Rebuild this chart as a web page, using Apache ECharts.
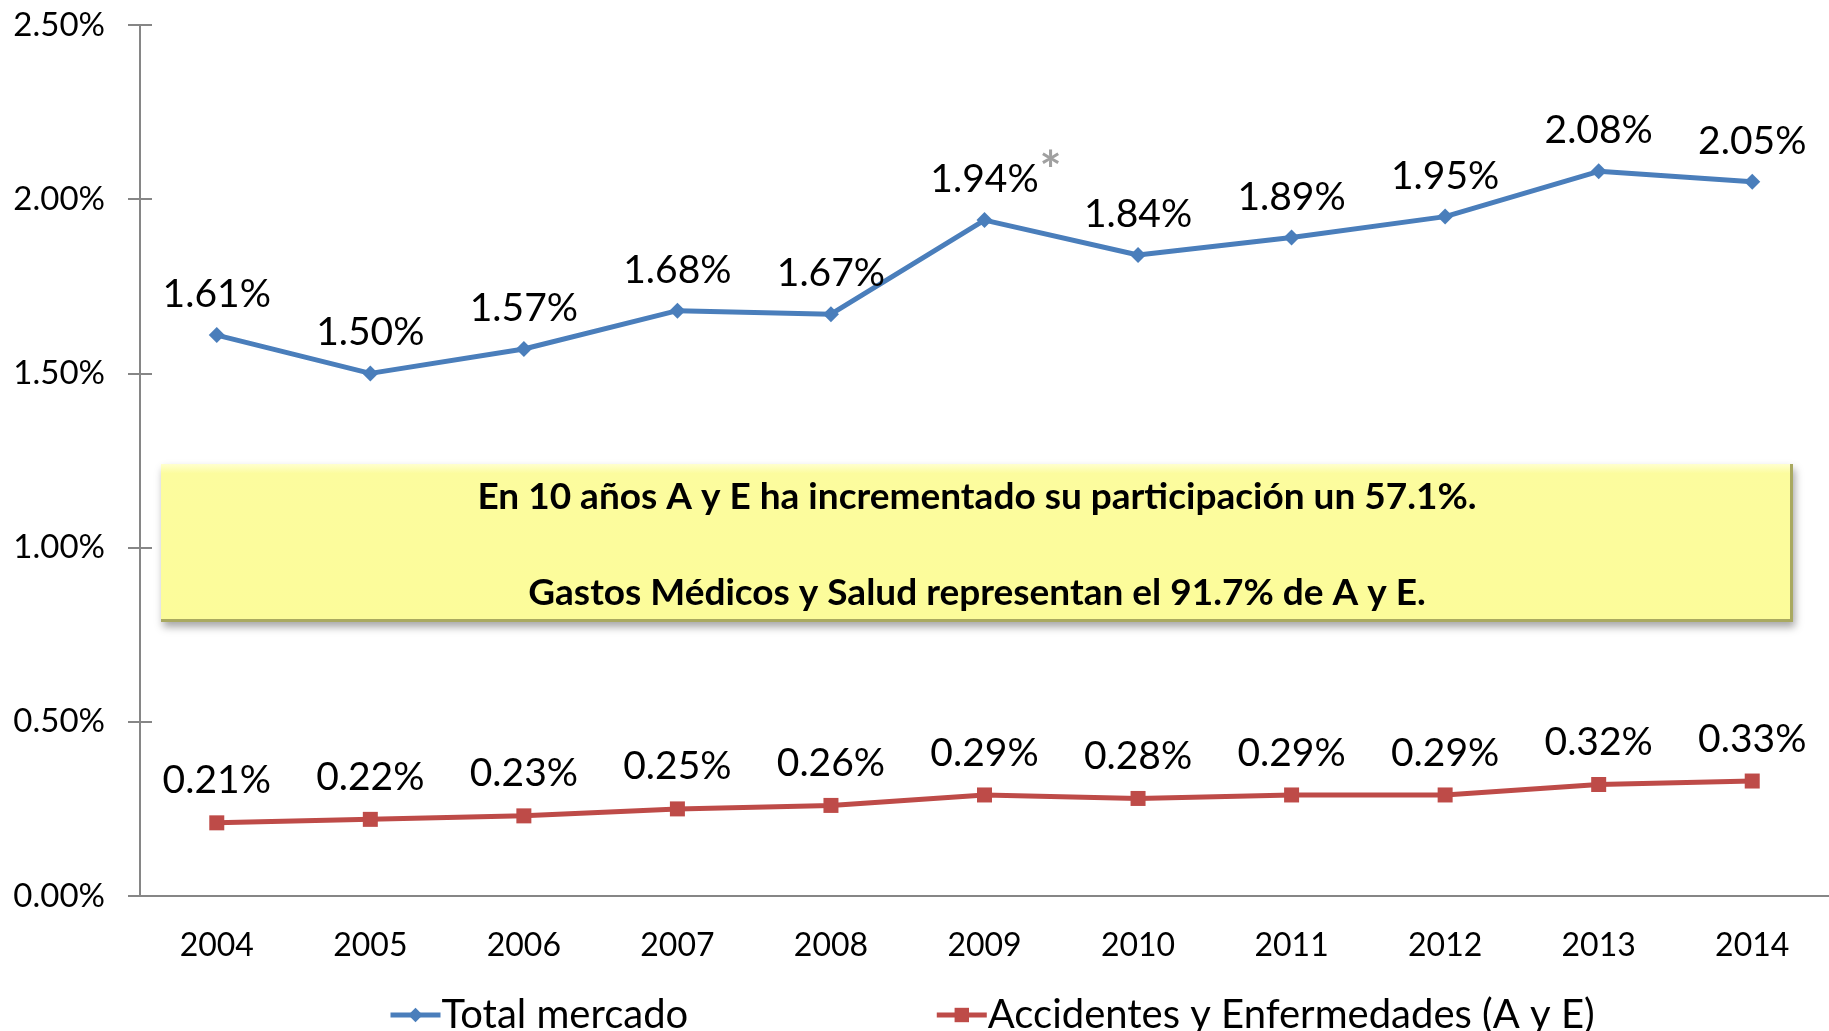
<!DOCTYPE html>
<html>
<head>
<meta charset="utf-8">
<script src="https://cdn.jsdelivr.net/npm/echarts@6/dist/echarts.min.js"></script>
<style>
  html, body { margin: 0; padding: 0; background: #fff; }
  #chart { width: 1829px; height: 1031px; }
</style>
</head>
<body>
<div id="chart"></div>
<script>
// datos
const years = ['2004', '2005', '2006', '2007', '2008', '2009', '2010', '2011', '2012', '2013', '2014']
const totalMercado = [1.61, 1.50, 1.57, 1.68, 1.67, 1.94, 1.84, 1.89, 1.95, 2.08, 2.05]
const accidentesEnf = [0.21, 0.22, 0.23, 0.25, 0.26, 0.29, 0.28, 0.29, 0.29, 0.32, 0.33]
const seriesNames = ['Total mercado', 'Accidentes y Enfermedades (A y E)']
const noteLines = [
  'En 10 años A y E ha incrementado su participación un 57.1%.',
  'Gastos Médicos y Salud representan el 91.7% de A y E.'
]
const yMin = 0
const yMax = 2.5
const yStep = 0.5

const FONT = 'Lato'
const axisGrey = '#868686'
const blue = '#4A7EBB'
const red = '#BE4B48'

const chart = echarts.init(document.getElementById('chart'))

const pct = v => v.toFixed(2) + '%'

const baseY = {
  type: 'value',
  min: yMin,
  max: yMax,
  interval: yStep,
  splitLine: { show: false }
}

const option = {
  animation: false,
  textStyle: { fontFamily: FONT },
  grid: { left: 140, right: 0, top: 25, bottom: 135 },
  legend: {
    left: 383,
    top: 990,
    itemGap: 246,
    itemWidth: 50,
    itemHeight: 18,
    lineStyle: { width: 5 },
    textStyle: { fontSize: 40, color: '#000', fontFamily: FONT, padding: [0, 0, 0, -4] },
    data: seriesNames
  },
  xAxis: [
    {
      type: 'category',
      data: years,
      boundaryGap: true,
      axisLine: { lineStyle: { color: axisGrey, width: 2 } },
      axisTick: { length: 11, lineStyle: { color: axisGrey, width: 2 } },
      axisLabel: { color: '#000', fontSize: 32, margin: 34, fontFamily: FONT }
    },
    {
      // marcas hacia adentro (cruzadas)
      type: 'category',
      data: years,
      position: 'bottom',
      boundaryGap: true,
      axisLine: { show: false },
      axisTick: { inside: true, length: 12, lineStyle: { color: axisGrey, width: 2 } },
      axisLabel: { show: false }
    }
  ],
  yAxis: [
    Object.assign({}, baseY, {
      axisLine: { show: true, lineStyle: { color: axisGrey, width: 2 } },
      axisTick: { show: true, length: 12, lineStyle: { color: axisGrey, width: 2 } },
      axisLabel: { color: '#000', fontSize: 33, margin: 35, fontFamily: FONT, formatter: v => v.toFixed(2) + '%' }
    }),
    Object.assign({}, baseY, {
      position: 'left',
      axisLine: { show: false },
      axisTick: { show: true, inside: true, length: 12, lineStyle: { color: axisGrey, width: 2 } },
      axisLabel: { show: false }
    })
  ],
  series: [
    {
      name: seriesNames[0],
      type: 'line',
      data: totalMercado,
      symbol: 'diamond',
      symbolSize: 16,
      itemStyle: { color: blue },
      lineStyle: { color: blue, width: 5 },
      label: {
        show: true,
        position: 'top',
        distance: 13,
        color: '#000',
        fontSize: 39,
        fontFamily: FONT,
        formatter: p => pct(p.value)
      }
    },
    {
      name: seriesNames[1],
      type: 'line',
      data: accidentesEnf,
      symbol: 'rect',
      symbolSize: 15,
      itemStyle: { color: red },
      lineStyle: { color: red, width: 5 },
      label: {
        show: true,
        position: 'top',
        distance: 15,
        color: '#000',
        fontSize: 39,
        fontFamily: FONT,
        formatter: p => pct(p.value)
      }
    }
  ]
}

chart.setOption(option)

// caja amarilla de nota + asterisco junto al 2009
const star = chart.convertToPixel({ seriesIndex: 0 }, [5, totalMercado[5]])
const boxX = 161, boxY = 464, boxW = 1632, boxH = 158

chart.setOption({
  graphic: [
    {
      type: 'rect',
      shape: { x: boxX, y: boxY, width: boxW, height: boxH },
      style: {
        fill: '#A9A960',
        shadowBlur: 8,
        shadowOffsetX: 2,
        shadowOffsetY: 5,
        shadowColor: 'rgba(0,0,0,0.35)'
      },
      z: 10
    },
    {
      type: 'rect',
      shape: { x: boxX, y: boxY, width: boxW - 3, height: boxH - 3 },
      style: {
        fill: new echarts.graphic.LinearGradient(0, 0, 0, 1, [
          { offset: 0, color: '#FFFFD0' },
          { offset: 0.06, color: '#FCFC9E' },
          { offset: 1, color: '#FCFC9A' }
        ])
      },
      z: 11
    },
    {
      type: 'text',
      x: boxX + boxW / 2,
      y: 497,
      style: {
        text: noteLines[0],
        font: 'bold 37px ' + FONT,
        fill: '#000',
        align: 'center',
        verticalAlign: 'middle'
      },
      z: 12
    },
    {
      type: 'text',
      x: boxX + boxW / 2,
      y: 593,
      style: {
        text: noteLines[1],
        font: 'bold 37px ' + FONT,
        fill: '#000',
        align: 'center',
        verticalAlign: 'middle'
      },
      z: 12
    },
    {
      type: 'text',
      x: star[0] + 66,
      y: star[1] - 48,
      style: {
        text: '*',
        font: 'bold 52px ' + FONT,
        fill: '#A0A0A0',
        align: 'center',
        verticalAlign: 'middle'
      },
      z: 12
    }
  ]
})
</script>
</body>
</html>
